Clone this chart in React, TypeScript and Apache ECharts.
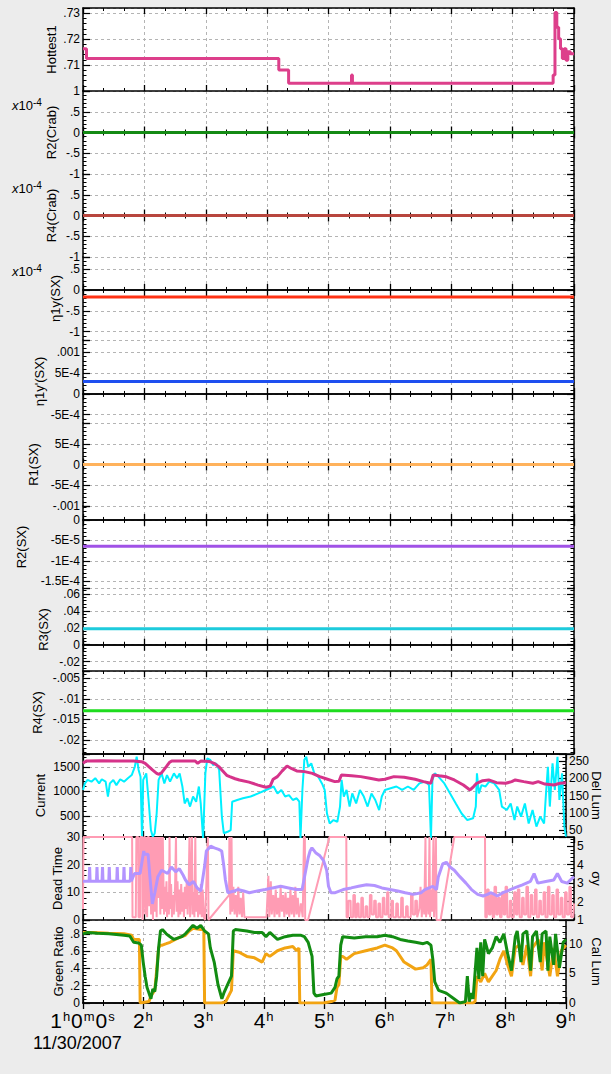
import React, { useEffect, useRef } from "react";
import * as echarts from "echarts";

const FONT = "'Liberation Sans', Arial, Helvetica, sans-serif";

// ---------------- time axis ----------------
const timeStart = 1;
const timeEnd = 9;
const hourTicks = [1, 2, 3, 4, 5, 6, 7, 8, 9];
const dateLabel = "11/30/2007";

// ---------------- panel 1: Hottest1 ----------------
const hottestData: [number, number][] = [
  [1.0, 0.7163], [1.057, 0.7125], [4.19, 0.7081], [4.35, 0.703], [5.375, 0.7062], [5.39, 0.703],
  [8.66, 0.7062], [8.69, 0.7303], [8.72, 0.7246], [8.75, 0.7201], [8.78, 0.7163], [8.81, 0.7125],
  [8.84, 0.7163], [8.87, 0.7119], [8.9, 0.7151], [8.94, 0.7144], [9.0, 0.7144],
];
const hottestTicks: [number, string][] = [[0.71, ".71"], [0.72, ".72"], [0.73, ".73"]];

// ---------------- panels 2-9: constant values ----------------
const r2CrabValue = 0;
const r4CrabValue = 0;
const eta1yValue = -0.17e-4;
const eta1yPrimeValue = 3.0e-4;
const r1SxValue = 0;
const r2SxValue = -6.4e-5;
const r3SxValue = 0.0188;
const r4SxValue = -0.0129;

const r2CrabTicks: [number, string][] = [[1e-4, "1"], [0.5e-4, ".5"], [0, "0"], [-0.5e-4, "-.5"], [-1e-4, "-1"]];
const r4CrabTicks: [number, string][] = [[0.5e-4, ".5"], [0, "0"], [-0.5e-4, "-.5"], [-1e-4, "-1"]];
const eta1yTicks: [number, string][] = [[0.5e-4, ".5"], [0, "0"], [-0.5e-4, "-.5"], [-1e-4, "-1"]];
const eta1yPrimeTicks: [number, string][] = [[1e-3, ".001"], [5e-4, "5E-4"], [0, "0"], [-5e-4, "-5E-4"]];
const r1SxTicks: [number, string][] = [[5e-4, "5E-4"], [0, "0"], [-5e-4, "-5E-4"], [-1e-3, "-.001"]];
const r2SxTicks: [number, string][] = [[0, "0"], [-5e-5, "-5E-5"], [-1e-4, "-1E-4"], [-1.5e-4, "-1.5E-4"]];
const r3SxTicks: [number, string][] = [[0.06, ".06"], [0.04, ".04"], [0.02, ".02"], [0, "0"], [-0.02, "-.02"]];
const r4SxTicks: [number, string][] = [[-0.005, "-.005"], [-0.01, "-.01"], [-0.015, "-.015"], [-0.02, "-.02"]];

// ---------------- panel 10: Current / Del Lum ----------------
const currentData: [number, number][] = [
  [1.0, 1575], [1.05, 1620], [1.3, 1625], [1.55, 1620], [1.84, 1623], [1.97, 1609], [2.03, 1575], [2.09, 1507],
  [2.15, 1440], [2.22, 1370], [2.25, 1351], [2.3, 1380], [2.38, 1507], [2.43, 1590], [2.47, 1623], [2.7, 1623],
  [2.86, 1620], [2.9, 1575], [2.95, 1620], [3.1, 1610], [3.17, 1575], [3.25, 1507], [3.3, 1440], [3.38, 1330],
  [3.43, 1303], [3.52, 1260], [3.59, 1235], [3.75, 1190], [3.9, 1130], [4.03, 1085], [4.1, 1110], [4.15, 1250],
  [4.22, 1303], [4.3, 1420], [4.38, 1521], [4.45, 1470], [4.54, 1420], [4.67, 1405], [4.8, 1370], [4.92, 1303],
  [5.05, 1250], [5.17, 1201], [5.24, 1210], [5.28, 1337], [5.45, 1320], [5.6, 1303], [5.75, 1269], [5.9, 1235],
  [6.0, 1250], [6.15, 1303], [6.32, 1290], [6.5, 1250], [6.64, 1201], [6.76, 1167], [6.8, 1337], [6.9, 1320],
  [7.02, 1300], [7.15, 1235], [7.3, 1133], [7.41, 1031], [7.47, 1100], [7.52, 1167], [7.62, 1220], [7.72, 1235],
  [7.85, 1180], [8.0, 1167], [8.1, 1201], [8.16, 1235], [8.3, 1201], [8.45, 1167], [8.54, 1201], [8.65, 1150],
  [8.8, 1133], [8.9, 1167], [9.0, 1180],
];
const delLumData: [number, number][] = [
  [1.0, 166], [1.032, 185], [1.076, 195], [1.14, 190], [1.203, 200], [1.267, 185], [1.311, 197], [1.375, 190],
  [1.413, 147], [1.445, 185], [1.502, 195], [1.553, 180], [1.616, 197], [1.68, 190], [1.743, 200], [1.807, 209],
  [1.858, 233], [1.889, 262], [1.921, 224], [1.953, 204], [1.978, 25], [1.997, 195], [2.048, 214], [2.086, 137],
  [2.125, 50], [2.156, 31], [2.188, 41], [2.22, 98], [2.252, 195], [2.302, 214], [2.347, 185], [2.391, 209],
  [2.442, 190], [2.506, 214], [2.557, 200], [2.601, 214], [2.646, 176], [2.684, 127], [2.728, 142], [2.773, 118],
  [2.823, 147], [2.874, 132], [2.919, 176], [2.95, 127], [2.989, 25], [3.027, 214], [3.058, 257], [3.109, 253],
  [3.154, 238], [3.205, 243], [3.255, 224], [3.3, 89], [3.332, 41], [3.395, 45], [3.446, 50], [3.471, 132],
  [3.554, 137], [3.649, 142], [3.776, 147], [3.903, 156], [4.03, 166], [4.094, 171], [4.157, 176], [4.221, 156],
  [4.285, 166], [4.348, 147], [4.412, 151], [4.475, 137], [4.539, 142], [4.583, 132], [4.602, 25], [4.634, 166],
  [4.666, 253], [4.698, 262], [4.73, 233], [4.781, 243], [4.831, 214], [4.895, 204], [4.958, 185], [5.003, 166],
  [5.041, 98], [5.086, 69], [5.149, 79], [5.213, 74], [5.257, 118], [5.283, 195], [5.32, 147], [5.365, 166],
  [5.416, 118], [5.46, 156], [5.524, 127], [5.587, 166], [5.651, 147], [5.714, 118], [5.778, 156], [5.841, 137],
  [5.905, 108], [5.949, 147], [6.0, 166], [6.095, 171], [6.191, 176], [6.286, 166], [6.381, 176], [6.477, 166],
  [6.572, 185], [6.667, 190], [6.731, 180], [6.763, 25], [6.788, 195], [6.826, 214], [6.89, 204], [6.985, 185],
  [7.08, 156], [7.175, 127], [7.271, 98], [7.366, 79], [7.461, 84], [7.506, 118], [7.525, 214], [7.557, 156],
  [7.601, 180], [7.665, 176], [7.728, 190], [7.811, 185], [7.893, 166], [7.938, 118], [8.02, 108], [8.084, 127],
  [8.147, 79], [8.192, 118], [8.255, 89], [8.319, 127], [8.382, 69], [8.446, 108], [8.51, 60], [8.573, 89],
  [8.637, 69], [8.669, 156], [8.7, 233], [8.732, 118], [8.777, 243], [8.815, 166], [8.859, 262], [8.891, 137],
  [8.935, 214], [8.973, 60], [9.0, 31],
];
const currentTicks: [number, string][] = [[500, "500"], [1000, "1000"], [1500, "1500"]];
const delLumTicks: [number, string][] = [[50, "50"], [100, "100"], [150, "150"], [200, "200"], [250, "250"]];

// ---------------- panel 11: Dead Time / sigma y ----------------
const deadTimeData: [number, number][] = [
  [1.0, 4], [1.008, 30], [1.8, 30], [1.807, 1], [1.86, 1], [1.87, 30], [1.9, 30], [1.905, 1], [1.93, 1], [1.935, 30],
  [1.965, 30], [1.97, 0], [1.99, 8], [1.995, 30], [2.01, 30], [2.015, 2], [2.03, 30], [2.045, 1], [2.055, 30],
  [2.075, 30], [2.08, 5], [2.09, 30], [2.11, 2], [2.12, 30], [2.14, 0], [2.15, 30], [2.17, 3], [2.18, 30], [2.2, 1],
  [2.21, 30], [2.23, 8], [2.24, 30], [2.26, 2], [2.27, 30], [2.285, 4], [2.3, 30], [2.31, 15], [2.32, 2], [2.335, 12],
  [2.345, 3], [2.36, 14], [2.37, 1], [2.385, 10], [2.4, 2], [2.41, 30], [2.42, 4], [2.435, 13], [2.45, 1], [2.465, 9],
  [2.48, 2], [2.5, 12], [2.515, 30], [2.525, 3], [2.54, 14], [2.555, 1], [2.57, 11], [2.585, 2], [2.6, 13], [2.615, 3],
  [2.63, 10], [2.645, 1], [2.66, 12], [2.675, 4], [2.69, 14], [2.705, 2], [2.72, 11], [2.735, 30], [2.745, 1],
  [2.76, 13], [2.775, 30], [2.785, 2], [2.8, 10], [2.815, 1], [2.83, 30], [2.84, 3], [2.86, 12], [2.875, 1], [2.89, 9],
  [2.905, 2], [2.92, 13], [2.935, 1], [2.95, 11], [2.97, 1], [2.99, 0], [3.035, 30], [3.045, 0], [3.38, 9], [3.385, 30],
  [3.4, 2], [3.42, 30], [3.43, 3], [3.45, 12], [3.47, 2], [3.49, 9], [3.51, 1], [3.53, 12], [3.55, 2], [3.57, 8],
  [3.59, 1], [3.61, 10], [3.63, 1], [3.66, 1], [3.99, 1], [4.02, 16], [4.035, 1], [4.06, 14], [4.075, 2], [4.1, 9],
  [4.12, 1], [4.14, 11], [4.16, 2], [4.18, 8], [4.2, 1], [4.22, 12], [4.24, 3], [4.26, 9], [4.28, 1], [4.3, 10],
  [4.32, 2], [4.34, 8], [4.36, 1], [4.38, 11], [4.4, 2], [4.42, 9], [4.44, 1], [4.46, 12], [4.48, 2], [4.5, 8],
  [4.52, 1], [4.55, 6], [4.58, 1], [4.6, 30], [4.615, 30], [4.62, 0], [4.666, 0], [5.015, 30], [5.29, 30], [5.295, 1],
  [5.32, 1], [5.325, 7], [5.36, 7], [5.365, 1], [5.4, 1], [5.405, 9], [5.43, 9], [5.435, 1], [5.46, 1], [5.465, 6],
  [5.49, 6], [5.495, 1], [5.53, 1], [5.535, 8], [5.56, 8], [5.565, 1], [5.6, 1], [5.605, 5], [5.63, 5], [5.635, 1],
  [5.67, 1], [5.675, 9], [5.7, 9], [5.705, 2], [5.74, 2], [5.745, 7], [5.77, 7], [5.775, 1], [5.81, 1], [5.815, 6],
  [5.84, 6], [5.845, 1], [5.88, 1], [5.885, 8], [5.91, 8], [5.915, 2], [5.95, 2], [5.955, 10], [5.975, 10], [5.98, 1],
  [6.02, 1], [6.025, 7], [6.05, 7], [6.055, 1], [6.1, 1], [6.105, 6], [6.13, 6], [6.135, 1], [6.18, 1], [6.185, 8],
  [6.21, 8], [6.215, 1], [6.26, 1], [6.265, 5], [6.29, 5], [6.295, 1], [6.34, 1], [6.345, 9], [6.37, 9], [6.375, 2],
  [6.41, 2], [6.415, 7], [6.44, 7], [6.445, 1], [6.48, 4], [6.5, 12], [6.52, 1], [6.54, 10], [6.56, 2], [6.58, 30],
  [6.59, 1], [6.61, 12], [6.63, 2], [6.645, 30], [6.655, 1], [6.67, 11], [6.69, 3], [6.71, 30], [6.72, 1], [6.735, 9],
  [6.75, 30], [6.76, 0], [6.826, 0], [7.05, 30], [7.55, 30], [7.555, 1], [7.58, 1], [7.585, 11], [7.61, 11],
  [7.615, 2], [7.64, 2], [7.645, 9], [7.67, 9], [7.675, 1], [7.7, 1], [7.705, 12], [7.73, 12], [7.735, 2], [7.76, 2],
  [7.765, 8], [7.79, 8], [7.795, 1], [7.82, 1], [7.825, 10], [7.85, 10], [7.855, 2], [7.88, 2], [7.885, 12], [7.91, 12],
  [7.915, 1], [7.95, 1], [7.955, 7], [7.98, 7], [7.985, 1], [8.02, 1], [8.025, 10], [8.05, 10], [8.055, 2], [8.08, 2],
  [8.085, 11], [8.11, 11], [8.115, 1], [8.15, 1], [8.155, 8], [8.18, 8], [8.185, 2], [8.22, 2], [8.225, 12], [8.25, 12],
  [8.255, 1], [8.29, 1], [8.295, 9], [8.32, 9], [8.325, 2], [8.36, 2], [8.365, 11], [8.39, 11], [8.395, 1], [8.43, 1],
  [8.435, 7], [8.46, 7], [8.465, 2], [8.5, 2], [8.505, 10], [8.53, 10], [8.535, 1], [8.57, 1], [8.575, 12], [8.6, 12],
  [8.605, 2], [8.64, 2], [8.645, 9], [8.67, 9], [8.675, 1], [8.71, 1], [8.715, 11], [8.74, 11], [8.745, 2], [8.78, 2],
  [8.785, 8], [8.81, 8], [8.815, 1], [8.85, 1], [8.855, 10], [8.88, 10], [8.885, 2], [8.92, 2], [8.925, 12], [8.95, 12],
  [8.955, 1], [8.99, 1], [9.0, 6],
];
const sigmaYData: [number, number][] = [
  [1.0, 3.1], [1.1, 3.1], [1.108, 3.87], [1.116, 3.1], [1.22, 3.1], [1.228, 3.87], [1.236, 3.1], [1.31, 3.1],
  [1.318, 3.87], [1.326, 3.1], [1.42, 3.1], [1.428, 3.87], [1.436, 3.1], [1.55, 3.1], [1.558, 3.87], [1.566, 3.1],
  [1.66, 3.1], [1.668, 3.87], [1.676, 3.1], [1.77, 3.1], [1.778, 3.87], [1.786, 3.1], [1.84, 3.52], [1.93, 3.52],
  [1.99, 4.74], [2.0, 4.57], [2.06, 4.57], [2.09, 3.35], [2.13, 1.87], [2.17, 2.48], [2.22, 3.35], [2.28, 3.7],
  [2.38, 3.52], [2.44, 3.87], [2.51, 3.61], [2.57, 3.78], [2.63, 3.44], [2.67, 3.17], [2.73, 2.91], [2.8, 3.09],
  [2.86, 2.74], [2.92, 2.57], [2.98, 3.87], [3.01, 4.74], [3.08, 5.0], [3.14, 4.91], [3.21, 4.83], [3.26, 4.74],
  [3.29, 4.04], [3.32, 3.17], [3.36, 2.48], [3.46, 2.57], [3.52, 2.65], [3.62, 2.57], [3.71, 2.48], [3.84, 2.57],
  [3.97, 2.65], [4.09, 2.74], [4.22, 2.83], [4.35, 2.74], [4.48, 2.65], [4.57, 2.65], [4.63, 3.7], [4.67, 4.39],
  [4.7, 4.74], [4.73, 4.91], [4.79, 4.65], [4.86, 4.48], [4.92, 4.22], [4.97, 3.7], [5.0, 2.83], [5.04, 2.48],
  [5.11, 2.48], [5.24, 2.65], [5.37, 2.74], [5.49, 2.83], [5.62, 2.91], [5.75, 2.87], [5.87, 2.74], [6.0, 2.65],
  [6.13, 2.57], [6.25, 2.48], [6.38, 2.39], [6.51, 2.48], [6.57, 2.65], [6.64, 2.74], [6.7, 2.83], [6.76, 2.65],
  [6.79, 3.35], [6.86, 4.04], [6.92, 4.13], [6.98, 3.87], [7.05, 3.7], [7.14, 3.35], [7.24, 3.0], [7.33, 2.65],
  [7.43, 2.39], [7.52, 2.3], [7.59, 2.39], [7.65, 2.48], [7.75, 2.3], [7.84, 2.48], [7.91, 2.57], [8.03, 2.74],
  [8.16, 2.91], [8.29, 3.09], [8.35, 3.52], [8.41, 3.0], [8.54, 3.09], [8.67, 3.17], [8.73, 3.52], [8.8, 3.09],
  [8.89, 3.0], [9.0, 3.35],
];
const deadTimeTicks: [number, string][] = [[0, "0"], [10, "10"], [20, "20"], [30, "30"]];
const sigmaYTicks: [number, string][] = [[1, "1"], [2, "2"], [3, "3"], [4, "4"], [5, "5"]];

// ---------------- panel 12: Green Ratio / Cal Lum ----------------
const greenRatioData: [number, number][] = [
  [1.0, 0.8], [1.076, 0.816], [1.235, 0.806], [1.426, 0.8], [1.553, 0.793], [1.68, 0.784], [1.775, 0.774],
  [1.839, 0.702], [1.921, 0.695], [1.966, 0.669], [1.997, 0.473], [2.029, 0.31], [2.061, 0.18], [2.093, 0.114],
  [2.125, 0.049], [2.156, 0.163], [2.188, 0.131], [2.22, 0.31], [2.252, 0.637], [2.283, 0.833], [2.315, 0.849],
  [2.379, 0.8], [2.442, 0.767], [2.506, 0.735], [2.569, 0.751], [2.633, 0.767], [2.696, 0.8], [2.76, 0.849],
  [2.823, 0.898], [2.887, 0.865], [2.95, 0.898], [3.014, 0.833], [3.078, 0.8], [3.109, 0.637], [3.173, 0.473],
  [3.236, 0.212], [3.3, 0.049], [3.332, 0.114], [3.395, 0.212], [3.459, 0.31], [3.49, 0.833], [3.522, 0.849],
  [3.713, 0.833], [3.84, 0.816], [3.967, 0.816], [4.03, 0.767], [4.094, 0.816], [4.221, 0.735], [4.348, 0.767],
  [4.475, 0.784], [4.602, 0.784], [4.666, 0.767], [4.73, 0.702], [4.794, 0.539], [4.825, 0.114], [4.857, 0.082],
  [4.984, 0.098], [5.111, 0.114], [5.174, 0.18], [5.206, 0.278], [5.238, 0.31], [5.269, 0.669], [5.301, 0.767],
  [5.492, 0.751], [5.682, 0.767], [5.873, 0.767], [6.0, 0.784], [6.127, 0.767], [6.254, 0.735], [6.381, 0.718],
  [6.508, 0.702], [6.635, 0.686], [6.699, 0.702], [6.763, 0.669], [6.794, 0.506], [6.826, 0.245], [6.89, 0.147],
  [7.017, 0.114], [7.144, 0.049], [7.239, 0.0], [7.334, 0.016], [7.366, 0.31], [7.398, 0.016], [7.429, 0.114],
  [7.461, 0.049], [7.525, 0.637], [7.557, 0.278], [7.588, 0.702], [7.62, 0.31], [7.652, 0.735], [7.715, 0.571],
  [7.779, 0.637], [7.843, 0.767], [7.906, 0.702], [7.97, 0.8], [8.033, 0.571], [8.097, 0.375], [8.16, 0.767],
  [8.192, 0.833], [8.255, 0.473], [8.287, 0.8], [8.351, 0.833], [8.414, 0.375], [8.446, 0.767], [8.51, 0.833],
  [8.573, 0.473], [8.605, 0.8], [8.669, 0.833], [8.7, 0.375], [8.732, 0.767], [8.796, 0.441], [8.827, 0.8],
  [8.891, 0.408], [8.954, 0.702], [9.0, 0.735],
];
const calLumData: [number, number][] = [
  [1.0, 11.9], [1.172, 11.9], [1.426, 11.76], [1.68, 11.67], [1.807, 11.43], [1.839, 10.7], [1.934, 10.7],
  [1.947, 0.0], [2.093, 0.24], [2.125, 1.19], [2.188, 2.14], [2.22, 5.48], [2.252, 9.29], [2.283, 9.76],
  [2.315, 9.76], [2.379, 10.0], [2.442, 10.24], [2.569, 10.95], [2.696, 11.43], [2.76, 12.14], [2.823, 12.62],
  [2.95, 12.38], [3.001, 12.38], [3.014, 0.0], [3.3, 0.0], [3.363, 0.24], [3.459, 2.14], [3.49, 8.81],
  [3.586, 8.57], [3.713, 7.86], [3.84, 7.62], [3.967, 6.9], [4.03, 8.33], [4.094, 7.86], [4.221, 8.81],
  [4.348, 9.29], [4.475, 9.52], [4.539, 8.81], [4.577, 9.29], [4.59, 0.0], [4.984, 0.0], [5.111, 0.24],
  [5.174, 0.48], [5.206, 2.62], [5.238, 3.1], [5.269, 7.86], [5.301, 7.86], [5.365, 7.38], [5.492, 8.33],
  [5.682, 8.81], [5.873, 9.29], [6.0, 9.76], [6.127, 9.29], [6.191, 8.81], [6.318, 6.9], [6.508, 5.71],
  [6.635, 5.95], [6.699, 6.43], [6.763, 7.38], [6.781, 0.0], [7.461, 0.0], [7.493, 0.24], [7.525, 4.52],
  [7.588, 3.57], [7.652, 5.0], [7.715, 3.57], [7.843, 5.48], [7.906, 7.38], [7.97, 8.81], [8.033, 6.43],
  [8.097, 4.52], [8.16, 9.29], [8.224, 9.76], [8.287, 6.43], [8.351, 9.76], [8.414, 4.52], [8.446, 9.29],
  [8.541, 10.71], [8.605, 5.48], [8.637, 10.24], [8.732, 4.52], [8.796, 9.29], [8.859, 4.52], [8.922, 8.81],
  [9.0, 9.76],
];
const greenRatioTicks: [number, string][] = [[0, "0"], [0.2, ".2"], [0.4, ".4"], [0.6, ".6"], [0.8, ".8"]];
const calLumTicks: [number, string][] = [[0, "0"], [5, "5"], [10, "10"]];

// ---------------- layout ----------------
const PLOT_LEFT = 83;
const PLOT_WIDTH = 491;
const PLOT_TOP = 8;
const PLOT_BOTTOM = 1003;
const LABEL_SIZE = 12;
const NAME_SIZE = 13;

type Scale = { min: number; max: number; step: number; ticks: [number, string][]; unit?: number };
type Line = { data: [number, number][]; color: string; width: number; step?: string; right?: boolean };
type Panel = {
  name: string;
  gap: number;
  y: Scale;
  lines: Line[];
  exp?: boolean;
  right?: Scale & { name: string; gap: number };
};

const flat = (v: number): [number, number][] => [[timeStart, v], [timeEnd, v]];

const panels: Panel[] = [
  { name: "Hottest1", gap: 25, y: { min: 0.7, max: 0.732, step: 0.01, ticks: hottestTicks, unit: 1e-3 },
    lines: [{ data: hottestData, color: "#dd3f8b", width: 3, step: "end" }] },
  { name: "R2(Crab)", gap: 25, exp: true, y: { min: -1e-4, max: 1e-4, step: 0.5e-4, ticks: r2CrabTicks, unit: 1e-4 },
    lines: [{ data: flat(r2CrabValue), color: "#148a14", width: 3 }] },
  { name: "R4(Crab)", gap: 25, exp: true, y: { min: -1e-4, max: 1e-4, step: 0.5e-4, ticks: r4CrabTicks, unit: 1e-4 },
    lines: [{ data: flat(r4CrabValue), color: "#b8463e", width: 3 }] },
  { name: "\u03b71y(SX)", gap: 21, exp: true, y: { min: -1.2e-4, max: 0.79e-4, step: 0.5e-4, ticks: eta1yTicks, unit: 1e-4 },
    lines: [{ data: flat(eta1yValue), color: "#ff3214", width: 3 }] },
  { name: "\u03b71y'(SX)", gap: 37, y: { min: -7e-4, max: 13e-4, step: 5e-4, ticks: eta1yPrimeTicks, unit: 1e-4 },
    lines: [{ data: flat(eta1yPrimeValue), color: "#1e4ff0", width: 3 }] },
  { name: "R1(SX)", gap: 43, y: { min: -1e-3, max: 1e-3, step: 5e-4, ticks: r1SxTicks, unit: 1e-4 },
    lines: [{ data: flat(r1SxValue), color: "#ffb25c", width: 3 }] },
  { name: "R2(SX)", gap: 55, y: { min: -1.66e-4, max: 0.34e-4, step: 5e-5, ticks: r2SxTicks, unit: 1e-5 },
    lines: [{ data: flat(r2SxValue), color: "#a052e6", width: 3 }] },
  { name: "R3(SX)", gap: 33, y: { min: -0.031, max: 0.067, step: 0.02, ticks: r3SxTicks, unit: 1e-3 },
    lines: [{ data: flat(r3SxValue), color: "#1ecbdc", width: 3 }] },
  { name: "R4(SX)", gap: 39, y: { min: -0.0234, max: -0.0032, step: 0.005, ticks: r4SxTicks, unit: 1e-3 },
    lines: [{ data: flat(r4SxValue), color: "#1edc1e", width: 3 }] },
  { name: "Current", gap: 36, y: { min: 70, max: 1765, step: 500, ticks: currentTicks },
    right: { name: "Del Lum", gap: 24, min: 30, max: 270, step: 50, ticks: delLumTicks },
    lines: [
      { data: delLumData, color: "#00f0ff", width: 2, right: true },
      { data: currentData, color: "#d6338a", width: 3 },
    ] },
  { name: "Dead Time", gap: 19, y: { min: 0, max: 30, step: 10, ticks: deadTimeTicks },
    right: { name: "\u03c3y", gap: 16, min: 1, max: 5.5, step: 1, ticks: sigmaYTicks, unit: 0.1 },
    lines: [
      { data: deadTimeData, color: "#ff9cb4", width: 2 },
      { data: sigmaYData, color: "#b394ff", width: 3, right: true },
    ] },
  { name: "Green Ratio", gap: 18, y: { min: 0, max: 0.96, step: 0.2, ticks: greenRatioTicks, unit: 0.01 },
    right: { name: "Cal Lum", gap: 24, min: 0, max: 14, step: 5, ticks: calLumTicks },
    lines: [
      { data: calLumData, color: "#f2a412", width: 3, right: true },
      { data: greenRatioData, color: "#128c12", width: 3 },
    ] },
];

// values are stored in physical units; the axes work in "unit" multiples to keep tick arithmetic exact
const toAxis = (v: number, unit: number) => Math.round((v / unit) * 1e6) / 1e6;

const labelOf = (s: Scale) => {
  const u = s.unit ?? 1;
  const step = toAxis(s.step, u);
  return (v: number | string) => {
    const num = Number(v);
    const t = s.ticks.find(([x]) => Math.abs(toAxis(x, u) - num) < step * 0.01);
    return t ? t[1] : "";
  };
};

const frame = { show: true, lineStyle: { color: "#000", width: 1.5 } };
const dashed = { show: true, lineStyle: { color: "#b4b4b4", width: 1, type: [3, 3] as number[] } };

function buildOption() {
  const n = panels.length;
  const ph = (PLOT_BOTTOM - PLOT_TOP) / n;
  const tops = panels.map((_, i) => Math.round(PLOT_TOP + i * ph));
  const grid: any[] = [];
  const xAxis: any[] = [];
  const yAxis: any[] = [];
  const series: any[] = [];
  const graphic: any[] = [];

  panels.forEach((p, i) => {
    const top = tops[i];
    const bottom = i === n - 1 ? PLOT_BOTTOM : tops[i + 1];
    grid.push({
      left: PLOT_LEFT, width: PLOT_WIDTH, top, height: bottom - top,
      show: true, backgroundColor: "#ffffff", borderWidth: 0,
    });
    const last = i === n - 1;
    const xBase = {
      gridIndex: i, type: "value", min: timeStart, max: timeEnd, interval: 1,
      axisLine: frame,
      axisTick: { show: true, inside: true, length: 6, lineStyle: { color: "#000", width: 1.3 } },
      minorTick: { show: true, splitNumber: 3, length: 3, lineStyle: { color: "#000", width: 1 } },
    };
    xAxis.push({
      ...xBase, position: "bottom",
      splitLine: dashed,
      axisLabel: {
        show: last, margin: 7, color: "#000",
        formatter: (v: number) => {
          if (!hourTicks.includes(v)) return "";
          return v === timeStart ? `{n|${v}}{s|h}{n|0}{s|m}{n|0}{s|s}` : `{n|${v}}{s|h}`;
        },
        rich: {
          n: { fontSize: 21, fontFamily: FONT, color: "#000", lineHeight: 20 },
          s: { fontSize: 13, fontFamily: FONT, color: "#000", lineHeight: 11, verticalAlign: "top", padding: [0, 1, 0, 1] },
        },
      },
    });
    xAxis.push({ ...xBase, position: "top", splitLine: { show: false }, axisLabel: { show: false } });

    const yCommon = (s: Scale) => {
      const u = s.unit ?? 1;
      const step = toAxis(s.step, u);
      return {
        gridIndex: i, type: "value", min: toAxis(s.min, u), max: toAxis(s.max, u),
        minInterval: step, maxInterval: step, splitNumber: 4,
        axisLine: frame,
        axisTick: { show: true, inside: true, length: 7, lineStyle: { color: "#000", width: 1.2 } },
        minorTick: { show: true, splitNumber: 5, length: 3.5, lineStyle: { color: "#000", width: 1 } },
      };
    };
    const labelCommon = (s: Scale) => ({
      show: true, margin: 3, color: "#000", fontSize: LABEL_SIZE, fontFamily: FONT,
      formatter: labelOf(s),
    });
    yAxis.push({
      ...yCommon(p.y), position: "left",
      splitLine: dashed,
      axisLabel: labelCommon(p.y),
      name: p.name, nameLocation: "middle", nameGap: p.gap, nameMoveOverlap: false,
      nameTextStyle: { color: "#000", fontSize: NAME_SIZE, fontFamily: FONT },
    });
    if (p.right) {
      const r = p.right;
      yAxis.push({
        ...yCommon(r), position: "right",
        splitLine: { show: false },
        axisLabel: labelCommon(r),
        name: r.name, nameLocation: "middle", nameGap: r.gap, nameRotate: -90, nameMoveOverlap: false,
        nameTextStyle: { color: "#000", fontSize: NAME_SIZE, fontFamily: FONT },
      });
    } else {
      yAxis.push({ ...yCommon(p.y), position: "right", splitLine: { show: false }, axisLabel: { show: false } });
    }

    p.lines.forEach((l) => {
      const s = l.right && p.right ? p.right : p.y;
      const u = s.unit ?? 1;
      series.push({
        type: "line", xAxisIndex: 2 * i, yAxisIndex: l.right ? 2 * i + 1 : 2 * i,
        data: l.data.map(([t, v]) => [t, toAxis(v, u)]),
        showSymbol: false, symbol: "none", step: l.step || false,
        lineStyle: { color: l.color, width: l.width }, itemStyle: { color: l.color },
        clip: true, silent: true, z: 3,
      });
    });

    if (p.exp) {
      graphic.push({
        type: "text", left: 12, top: top + 6, z: 10,
        style: {
          text: "{i|x}{a|10}{b|-4}",
          rich: {
            i: { fontSize: 13, fontFamily: FONT, fontStyle: "italic", fill: "#000", lineHeight: 16 },
            a: { fontSize: 13, fontFamily: FONT, fill: "#000", lineHeight: 16 },
            b: { fontSize: 10, fontFamily: FONT, fill: "#000", lineHeight: 10, verticalAlign: "top" },
          },
        },
      });
    }
  });

  graphic.push({
    type: "text", left: 33, top: 1034, z: 10,
    style: { text: dateLabel, fontSize: 18, fontFamily: FONT, fill: "#000" },
  });

  return {
    animation: false,
    backgroundColor: "#ececec",
    textStyle: { fontFamily: FONT },
    grid, xAxis, yAxis, series, graphic,
  };
}

export default function App() {
  const ref = useRef<HTMLDivElement>(null);
  useEffect(() => {
    if (!ref.current) return;
    const chart = echarts.init(ref.current, undefined, { renderer: "svg" });
    chart.setOption(buildOption() as any);
    return () => chart.dispose();
  }, []);
  return (
    <div
      ref={ref}
      style={{ position: "absolute", left: 0, top: 0, width: 611, height: 1074, background: "#ececec" }}
    />
  );
}
